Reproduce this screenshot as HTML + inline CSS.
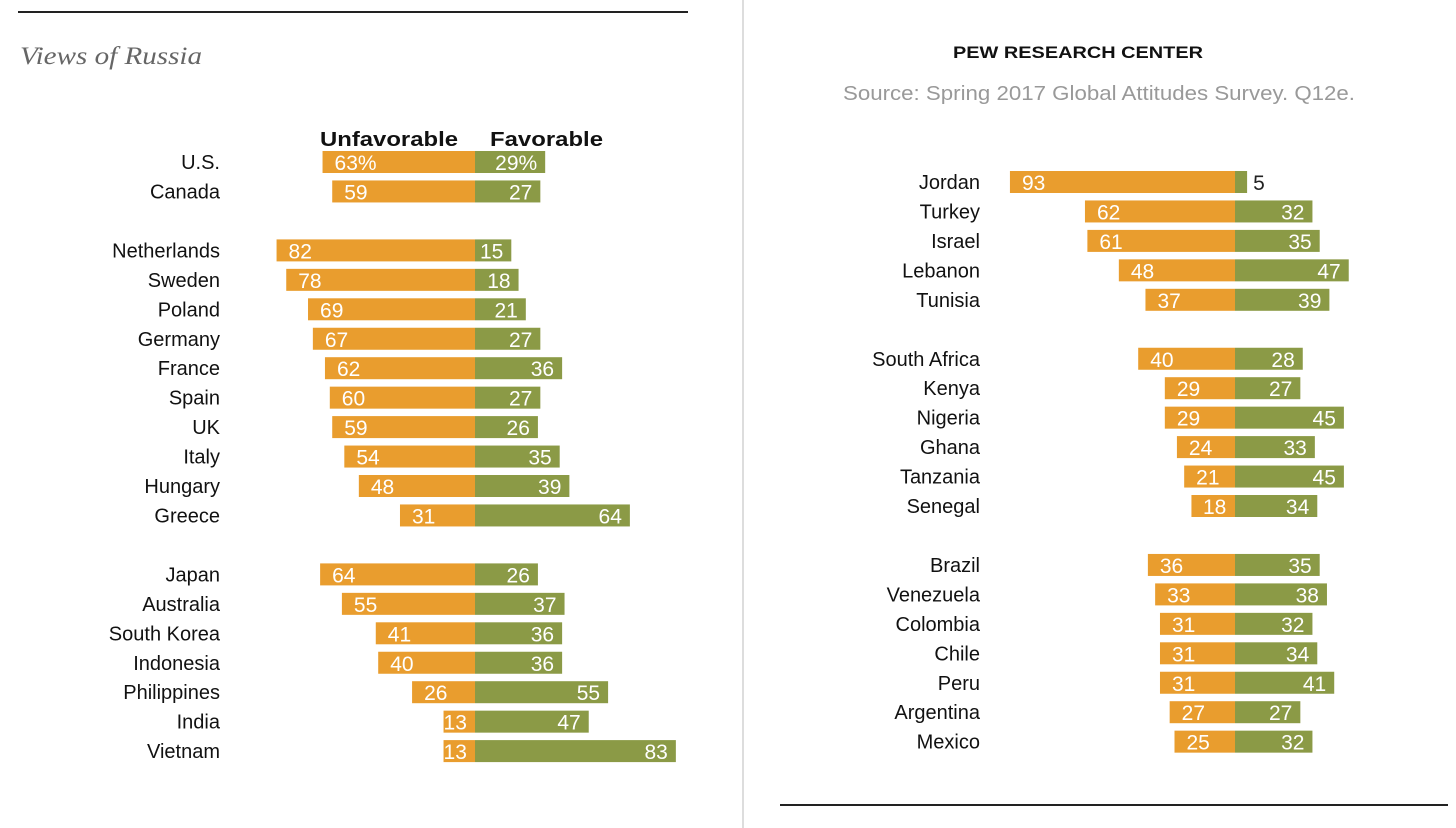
<!DOCTYPE html>
<html><head><meta charset="utf-8">
<style>
html,body{margin:0;padding:0;background:#fff;}
svg{display:block;font-family:"Liberation Sans Narrow","Liberation Sans",sans-serif;}
</style></head>
<body>
<svg id="chart" width="1456" height="828" viewBox="0 0 1456 828">
  <line x1="18" y1="12" x2="688" y2="12" stroke="#222" stroke-width="2"/>
  <line x1="743" y1="0" x2="743" y2="828" stroke="#bbb" stroke-width="1"/>
  <line x1="780" y1="805" x2="1448" y2="805" stroke="#222" stroke-width="2"/>
  <text x="20" y="64" font-family="Liberation Serif,serif" font-style="italic" font-size="25" fill="#666" textLength="182" lengthAdjust="spacingAndGlyphs">Views of Russia</text>
  <text x="320" y="146" font-family="Liberation Sans,sans-serif" font-weight="bold" font-size="20" fill="#111" textLength="138" lengthAdjust="spacingAndGlyphs">Unfavorable</text>
  <text x="490" y="146" font-family="Liberation Sans,sans-serif" font-weight="bold" font-size="20" fill="#111" textLength="113" lengthAdjust="spacingAndGlyphs">Favorable</text>
  <text x="953" y="58" font-family="Liberation Sans,sans-serif" font-weight="bold" font-size="17" fill="#111" textLength="250" lengthAdjust="spacingAndGlyphs">PEW RESEARCH CENTER</text>
  <text x="843" y="100" font-size="20" fill="#999" textLength="512" lengthAdjust="spacingAndGlyphs">Source: Spring 2017 Global Attitudes Survey. Q12e.</text>
  <g id="bars"></g>
</svg>
<script>
// Left panel data
const leftCountries = ["U.S.","Canada","Netherlands","Sweden","Poland","Germany","France","Spain","UK","Italy","Hungary","Greece","Japan","Australia","South Korea","Indonesia","Philippines","India","Vietnam"];
const leftUnfav = [63,59,82,78,69,67,62,60,59,54,48,31,64,55,41,40,26,13,13];
const leftFav = [29,27,15,18,21,27,36,27,26,35,39,64,26,37,36,36,55,47,83];
const leftGroup = [0,0,1,1,1,1,1,1,1,1,1,1,2,2,2,2,2,2,2];
// Right panel data
const rightCountries = ["Jordan","Turkey","Israel","Lebanon","Tunisia","South Africa","Kenya","Nigeria","Ghana","Tanzania","Senegal","Brazil","Venezuela","Colombia","Chile","Peru","Argentina","Mexico"];
const rightUnfav = [93,62,61,48,37,40,29,29,24,21,18,36,33,31,31,31,27,25];
const rightFav = [5,32,35,47,39,28,27,45,33,45,34,35,38,32,34,41,27,32];
const rightGroup = [0,0,0,0,0,1,1,1,1,1,1,2,2,2,2,2,2,2];

const NS="http://www.w3.org/2000/svg";
const g=document.getElementById('bars');
const SCALE=2.42, ROW=29.45, GAP=29.5, BH=22;
const ORANGE="#E99D2E", GREEN="#8B9A46";

function mk(tag, attrs){const e=document.createElementNS(NS,tag);for(const k in attrs)e.setAttribute(k,attrs[k]);g.appendChild(e);return e;}

function panel(countries, unfav, fav, group, center, labelX, y0, pct){
  countries.forEach((c,i)=>{
    const yc = y0 + i*ROW + group[i]*GAP;
    const lab = mk('text',{x:labelX,y:yc+7,'text-anchor':'end','font-size':20,fill:'#111'});
    lab.textContent=c;
    
    
    const uw = unfav[i]*SCALE, fw = fav[i]*SCALE;
    const ub = mk('rect',{x:center-uw,y:yc-BH/2,width:uw,height:BH,fill:ORANGE});
    
    
    const fb = mk('rect',{x:center,y:yc-BH/2,width:fw,height:BH,fill:GREEN});
    
    
    const sfx = (pct && i===0)?'%':'';
    const ut = mk('text',{x:center-uw+Math.min(12,Math.max(0,uw-32)),y:yc+8,'font-size':21,fill:'#fff'});
    ut.textContent=unfav[i]+sfx;
    
    
    let ft;
    if(fw<25){
      ft = mk('text',{x:center+fw+6,y:yc+8,'font-size':21,fill:'#222'});
    } else {
      ft = mk('text',{x:center+fw-8,y:yc+8,'text-anchor':'end','font-size':21,fill:'#fff'});
    }
    ft.textContent=fav[i]+sfx;
    
    
  });
}
panel(leftCountries,leftUnfav,leftFav,leftGroup,475,220,162,true);
panel(rightCountries,rightUnfav,rightFav,rightGroup,1235,980,182,false);
</script>
</body></html>
